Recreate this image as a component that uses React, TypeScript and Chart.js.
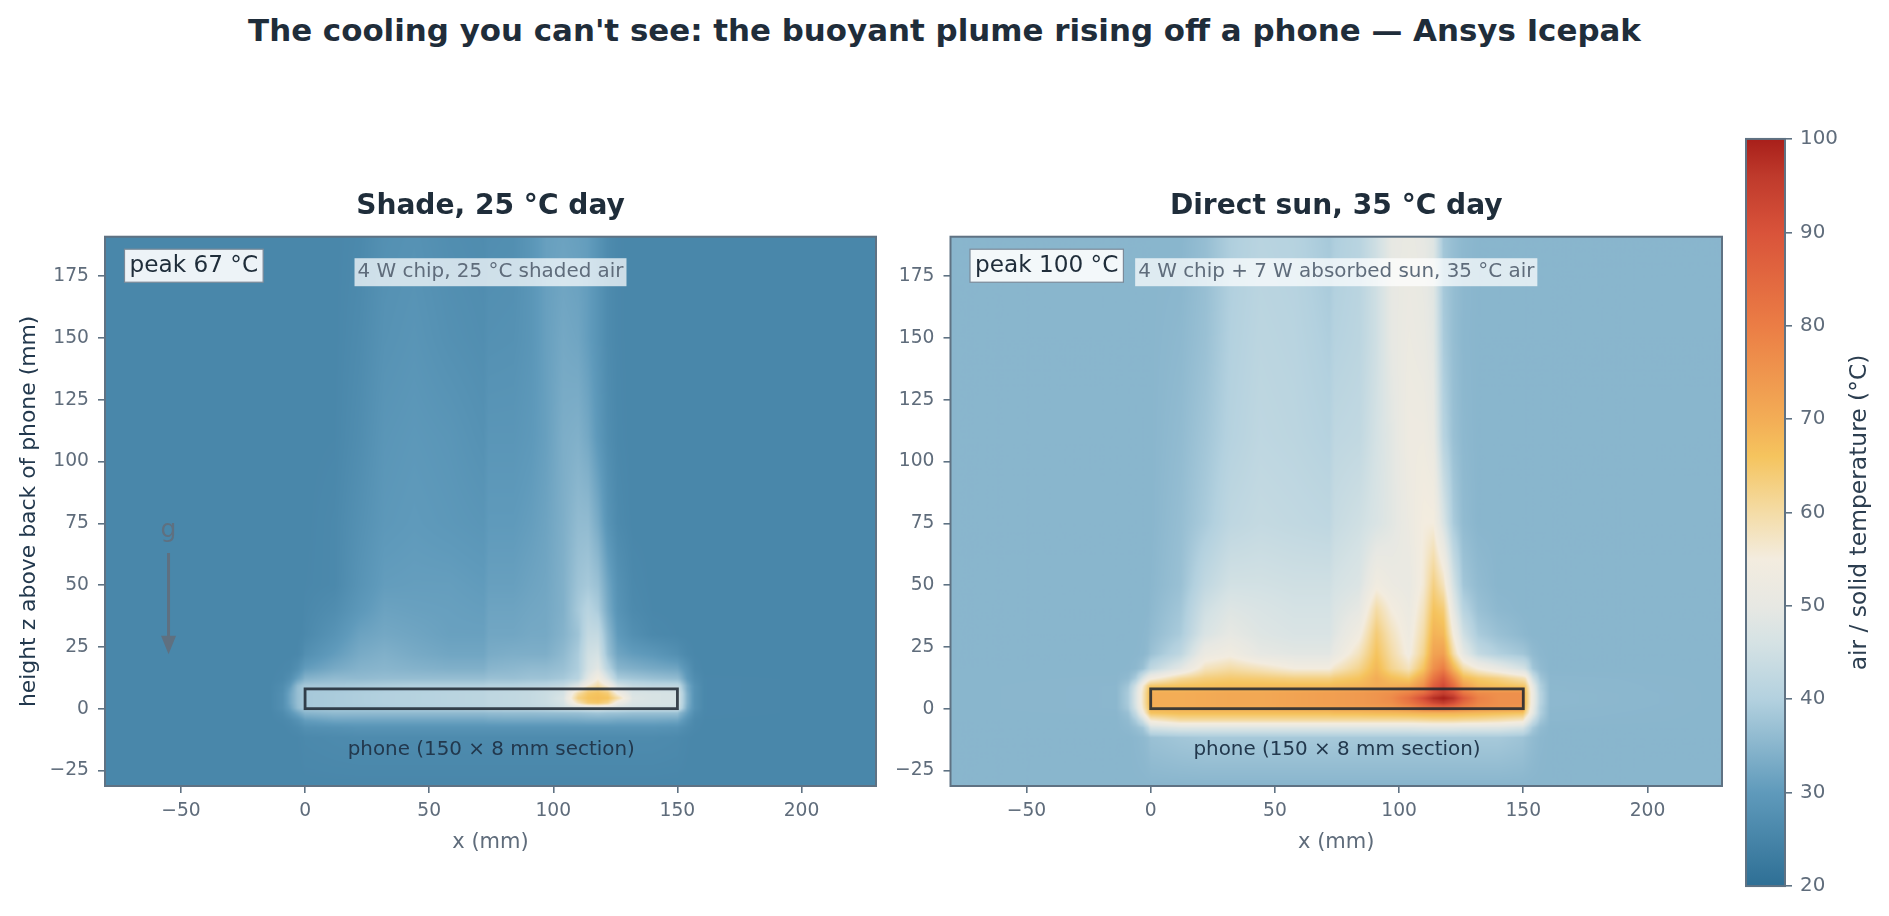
import React, { useEffect, useRef } from "react";
import { Chart, registerables } from "chart.js";

Chart.register(...registerables);

// ---- data ----
const MAIN_TITLE = "The cooling you can't see: the buoyant plume rising off a phone — Ansys Icepak";
const xTicks = [-50, 0, 50, 100, 150, 200];
const zTicks = [-25, 0, 25, 50, 75, 100, 125, 150, 175];
const barTicks = [20, 30, 40, 50, 60, 70, 80, 90, 100];
const xRange = [-80.6, 230];
const zRange = [-31.3, 191];
const gridX = [-80, -14, -9, -6, -3, -1, 0, 12, 22, 32, 44, 58, 72, 74, 84, 91, 97, 104, 110, 114, 118, 122, 126, 132, 140, 150, 151, 154, 157, 161, 230];
const gridZ = [191, 150, 110, 75, 50, 40, 30, 22, 16, 12, 9, 8, 6, 4, 2, 0, -2, -5, -8, -12, -31.3];

const shadeField = [
  [25.5,25.5,25.5,25.5,25.5,25.5,25.5,25.5,26,27.7,28.2,27.2,26.8,27.2,27.4,29,31,31.5,31,30.5,28.5,26.5,25.7,25.5,25.5,25.5,25.5,25.5,25.5,25.5,25.5],
  [25.5,25.5,25.5,25.5,25.5,25.5,25.5,25.5,26.5,28.2,28.8,27.8,27.2,27.8,28,29,31,32.5,32,30.5,28.5,26.5,25.7,25.5,25.5,25.5,25.5,25.5,25.5,25.5,25.5],
  [25.5,25.5,25.5,25.5,25.5,25.5,25.5,25.6,27,29,29.5,29,28,29,29,29.7,31,33.5,34,32.5,29.5,27,25.8,25.5,25.5,25.5,25.5,25.5,25.5,25.5,25.5],
  [25.5,25.5,25.5,25.5,25.5,25.5,25.5,26,27.8,29.5,30,29.5,29,30,30,30.7,31.7,33.7,36,36,33,28.5,26.3,25.5,25.5,25.5,25.5,25.5,25.5,25.5,25.5],
  [25.5,25.5,25.5,25.5,25.5,25.5,25.6,26,28.5,30.5,30.7,30.7,30.2,31,31,31.7,32.2,34,37.5,38.5,37,32,28,26,25.5,25.5,25.5,25.5,25.5,25.5,25.5],
  [25.5,25.5,25.5,25.5,25.5,25.5,25.8,27,29.5,31.5,31.2,31,30.7,31.7,31.7,32.2,32.5,34,38.5,41,39,33,28.5,26.3,25.6,25.5,25.5,25.5,25.5,25.5,25.5],
  [25.5,25.5,25.5,25.5,25.5,25.7,26,28.5,31.5,32.5,32,31.2,31.2,32.2,32.2,32.7,32.7,34.5,37.5,43,43,35.5,30,27.5,26,25.6,25.5,25.5,25.5,25.5,25.5],
  [25.5,25.5,25.5,25.5,25.7,26.5,27.5,30.5,33,34,33,32.2,32.2,33.2,33.7,33.7,33.7,35.7,39,45,46,37,32,30.5,29.5,27.5,27,26,25.6,25.5,25.5],
  [25.5,25.5,25.7,26,27.5,29.5,30.5,33,34.5,35,34.5,34,34,35,35.5,36,36,37,39.5,46,49,41,35,34,33,32,31,28.5,26,25.5,25.5],
  [25.5,25.5,26,27.5,31,33,34.5,36,36,36.5,36.5,36.5,36.5,37,37,37.5,37.5,38.5,41,49,55,47,39,38,37,36,35,30,27,25.7,25.5],
  [25.5,25.6,27,30,36,38,38.5,38.5,39,39.5,40,40,40,40.5,40.5,41,41.5,43,48,56,60,55,46,43,42,42,41,33,28,25.7,25.5],
  [25.5,25.6,27,31,36.5,38,38.5,38.5,39,39.5,40,40.5,41,41.5,42,42.5,43.5,45,52,60,62,58,48,45,44,44,42,33,28,25.7,25.5],
  [25.5,25.6,27.5,32,36.5,38,38.5,39,39.5,40,40.5,41,41.5,42,42.5,43,44,46,60,65,66,64,54,47,46.5,46,44,34,28,25.7,25.5],
  [25.5,25.6,27.5,32,36.5,38,38.5,39,39.5,40,40.5,41,41.5,42,42.5,43,44,47,63,66,67,66,60,48,46.5,46,44,34,28,25.7,25.5],
  [25.5,25.6,27.5,32,36.5,38,38.5,39,39.5,40,40.5,41,41.5,42,42.5,43,44,46,58,64,65,62,52,47,46.5,46,44,34,28,25.7,25.5],
  [25.5,25.6,27.5,31,36,38,38.5,39,39,39.5,40,40.5,41,41.5,42,42.5,43,45,46,47,48,47,46,45.5,45,45,43,33,28,25.7,25.5],
  [25.5,25.5,26.5,29,32,34,35,36,36,36,36,36,36,36.3,36.5,36.5,36.7,36.8,37,37.5,38,37.5,37.5,37,37,37,35,31,27,25.7,25.5],
  [25.5,25.5,25.8,26.5,28,29.5,30.5,32,32,32,32,32,32,32.3,32.5,32.5,32.5,32.5,32.7,33,33,33,32.5,32.5,32.5,32,31,28,26,25.6,25.5],
  [25.5,25.5,25.5,25.8,26.3,27,27.5,28,28.5,28.5,28.5,28.5,28.5,28.5,28.5,28.5,28.5,28.5,28.5,28.5,28.5,28.5,28.5,28.5,28.5,28,27.5,26.5,25.8,25.5,25.5],
  [25.5,25.5,25.5,25.5,25.6,25.8,26,26.3,26.5,26.5,26.5,26.5,26.5,26.5,26.5,26.5,26.5,26.5,26.5,26.5,26.5,26.5,26.5,26.5,26.5,26.2,26,25.7,25.5,25.5,25.5],
  [25.5,25.5,25.5,25.5,25.5,25.5,25.5,25.5,25.5,25.5,25.5,25.5,25.5,25.5,25.5,25.5,25.5,25.5,25.5,25.5,25.5,25.5,25.5,25.5,25.5,25.5,25.5,25.5,25.5,25.5,25.5],
];

const sunField = [
  [35,35,35,35,35,35,35,35,36.5,39.5,41,40.5,38.5,39.5,41,45,50,51,50,48,38,36.5,35.5,35,35,35,35,35,35,35,35],
  [35,35,35,35,35,35,35,35.5,37,40,41.5,41,39.5,40.5,41.5,45,50,52,51,49,39,36.5,35.3,35,35,35,35,35,35,35,35],
  [35,35,35,35,35,35,35,36,38,40.5,42,41.5,40.5,42,42.5,46,49,53,53,51,41,37,35.5,35,35,35,35,35,35,35,35],
  [35,35,35,35,35,35,35,36.5,39,42,43,42.5,42,43.5,45,47,49,52,55,55,47,39,36,35,35,35,35,35,35,35,35],
  [35,35,35,35,35,35,35.2,37,42.5,45.5,45.5,45,45,46,47.5,54,52,51,56,63,58,46,38,36,35,35,35,35,35,35,35],
  [35,35,35,35,35,35.1,35.5,38,45,48,47,46,46,47.5,50,60,55,52,58,66,64,50,41,37,35.5,35,35,35,35,35,35],
  [35,35,35,35,35.2,35.5,36,39,47,50,48,47,47,48.5,54,64,58,53,60,69,68,55,45,39,37,35.5,35.3,35,35,35,35],
  [35,35,35,35.1,35.3,36,37,42,52,54,50,49,49,51,58,66,60,54,62,72,73,60,50,43,40,38,37.5,36,35.3,35,35],
  [35,35,35.1,35.5,37,40,42,49,58,60,58,55,55,57,62,68,62,58,66,76,80,69,60,55,51,46,45,38,36,35,35],
  [35,35.1,36,39,47,52,54,61,63.5,64.5,64,63,63,64,66,70,67,65,72,82,88,78,68,65,63,59,58,45,38,35.3,35],
  [35,35.2,38,45,56,63,65,66,66.5,67,67,67,67,67.5,68.5,70,69.5,70,76,87,92,84,73,68,66.5,65,64,50,40,35.4,35],
  [35,35.2,38.5,46,57,64,67,67,67.5,68,68,68.5,69,69.5,70,71,72,74,79,89,93,87,77,71,70,70,65,51,40,35.4,35],
  [35,35.2,39,47,58,65,70,70,70.5,71,71,72,73,73,74,75,76,79,84,91,95,91,82,77,76,76,66,52,41,35.5,35],
  [35,35.2,39,47,58,65,70,70,70.5,71,71,72,73,73,74,75,77,83,92,98,100,97,88,79,76,76,66,52,41,35.5,35],
  [35,35.2,39,47,58,65,70,70,70.5,71,71,72,73,73,74,75,76,81,87,92,95,91,84,78,76,76,66,52,41,35.5,35],
  [35,35.2,38.5,46,57,64,69,69.5,70,70,70,71,71.5,72,72.5,73,74,76,81,83,84,82,79,76,75,74,65,51,40,35.4,35],
  [35,35.1,37,43,54,62,66,67,67,67,67,67,67,67.5,67.5,68,68,68.5,69,69,69,69,68.5,68,67,66,62,50,40,35.3,35],
  [35,35,36,39,45,52,56,60,60,60,60,60,60,60,60,60,60,60,60.5,61,61,61,60.5,60,59,57,53,44,38,35.2,35],
  [35,35,35.5,36.5,38,42,46,48,48,48,48,48,48,48,48,48,48,48,48.5,48.5,48.5,48.5,48,48,48,46,44,38.5,36,35,35],
  [35,35,35,35.3,35.7,36.3,37,38,38.5,38.5,38.5,38.5,38.5,38.5,38.5,38.5,38.5,38.5,38.5,38.5,38.5,38.5,38.5,38.5,38.5,37.5,37,36,35.3,35,35],
  [35,35,35,35,35,35,35,35,35,35,35,35,35,35,35,35,35,35,35,35,35,35,35,35,35,35,35,35,35,35,35],
];

const colorStopsT = [20, 30, 40, 46, 50, 55, 60, 66, 70, 80, 90, 96, 100];
const colorStopsHex = ["#2e6f95", "#5f9abb", "#b3d1df", "#d5e2e4", "#e7e8e3", "#f3ecdf", "#f4dca6", "#f5c45e", "#f3ad56", "#eb7d45", "#d9533a", "#bf3a2c", "#a81f1a"];

const panels = [
  { title: "Shade, 25 °C day", peak: "peak 67 °C", note: "4 W chip, 25 °C shaded air", field: shadeField, showZLabel: true, showG: true },
  { title: "Direct sun, 35 °C day", peak: "peak 100 °C", note: "4 W chip + 7 W absorbed sun, 35 °C air", field: sunField, showZLabel: false, showG: false },
];
const phoneBox = { x0: 0, x1: 150, z0: 0, z1: 8 };
const phoneLabel = "phone (150 × 8 mm section)";
const xTitle = "x (mm)";
const zTitle = "height z above back of phone (mm)";
const barTitle = "air / solid temperature (°C)";

// ---- styles ----
const FONT = "'DejaVu Sans', sans-serif";
const DARK = "#1f2d3a";
const GREY = "#5f6c7b";
const FRAME = "#5f7283";
const TICK = 18.7;

const hexRgb = (h: string) => [1, 3, 5].map((i) => parseInt(h.slice(i, i + 2), 16));
const stopsRgb = colorStopsHex.map(hexRgb);
function colorAt(t: number): number[] {
  if (t <= colorStopsT[0]) return stopsRgb[0];
  for (let i = 1; i < colorStopsT.length; i++) {
    if (t <= colorStopsT[i]) {
      const f = (t - colorStopsT[i - 1]) / (colorStopsT[i] - colorStopsT[i - 1]);
      return stopsRgb[i].map((c, k) => stopsRgb[i - 1][k] + (c - stopsRgb[i - 1][k]) * f);
    }
  }
  return stopsRgb[stopsRgb.length - 1];
}

function locate(values: number[], v: number): [number, number] {
  const asc = values[0] < values[values.length - 1];
  for (let i = 0; i < values.length - 1; i++) {
    const a = values[i], b = values[i + 1];
    if (asc ? v <= b : v >= b) {
      const f = Math.max(0, Math.min(1, (v - a) / (b - a)));
      return [i, f];
    }
  }
  return [values.length - 2, 1];
}

function drawBox(ctx: CanvasRenderingContext2D, text: string, font: string, color: string, cx: number, cy: number, fill: string, pad: number[], edge?: string, left?: number) {
  ctx.save();
  ctx.font = font;
  const w = ctx.measureText(text).width;
  const x0 = left !== undefined ? left : cx - w / 2 - pad[0];
  const bw = w + 2 * pad[0];
  const bh = pad[1] * 2;
  ctx.fillStyle = fill;
  ctx.fillRect(x0, cy - bh / 2, bw, bh);
  if (edge) {
    ctx.strokeStyle = edge;
    ctx.lineWidth = 1.2;
    ctx.strokeRect(x0, cy - bh / 2, bw, bh);
  }
  ctx.fillStyle = color;
  ctx.textBaseline = "middle";
  ctx.textAlign = "left";
  ctx.fillText(text, x0 + pad[0], cy);
  ctx.restore();
}

const heatPlugin = {
  id: "heat",
  beforeDatasetsDraw(chart: any, _a: any, opts: any) {
    const { ctx, chartArea: a, scales } = chart;
    const field: number[][] = opts.field;
    const w = Math.ceil(a.right - a.left), h = Math.ceil(a.bottom - a.top);
    const off = document.createElement("canvas");
    off.width = w; off.height = h;
    const oc = off.getContext("2d")!;
    const img = oc.createImageData(w, h);
    const cols = Array.from({ length: w }, (_, i) => locate(gridX, scales.x.getValueForPixel(a.left + i + 0.5)));
    const rows = Array.from({ length: h }, (_, j) => locate(gridZ, scales.y.getValueForPixel(a.top + j + 0.5)));
    let p = 0;
    for (let j = 0; j < h; j++) {
      const [r, fr] = rows[j];
      for (let i = 0; i < w; i++) {
        const [c, fc] = cols[i];
        const t =
          field[r][c] * (1 - fc) * (1 - fr) + field[r][c + 1] * fc * (1 - fr) +
          field[r + 1][c] * (1 - fc) * fr + field[r + 1][c + 1] * fc * fr;
        const rgb = colorAt(t);
        img.data[p++] = rgb[0]; img.data[p++] = rgb[1]; img.data[p++] = rgb[2]; img.data[p++] = 255;
      }
    }
    oc.putImageData(img, 0, 0);
    ctx.drawImage(off, a.left, a.top, a.right - a.left, a.bottom - a.top);
  },
  afterDatasetsDraw(chart: any, _a: any, opts: any) {
    const { ctx, chartArea: a, scales } = chart;
    const sx = scales.x, sy = scales.y;
    ctx.save();
    // phone outline
    ctx.strokeStyle = "rgba(28,38,48,0.85)";
    ctx.lineWidth = 2.8;
    ctx.strokeRect(sx.getPixelForValue(phoneBox.x0), sy.getPixelForValue(phoneBox.z1), sx.getPixelForValue(phoneBox.x1) - sx.getPixelForValue(phoneBox.x0), sy.getPixelForValue(phoneBox.z0) - sy.getPixelForValue(phoneBox.z1));
    ctx.fillStyle = "#22384d";
    ctx.font = `19.9px ${FONT}`;
    ctx.textAlign = "center";
    ctx.textBaseline = "middle";
    ctx.fillText(phoneLabel, sx.getPixelForValue(75), sy.getPixelForValue(-16.5));
    // note and peak boxes
    drawBox(ctx, opts.note, `19.9px ${FONT}`, GREY, (a.left + a.right) / 2, a.top + 35.5, "rgba(255,255,255,0.72)", [3, 14]);
    drawBox(ctx, opts.peak, `23.2px ${FONT}`, DARK, 0, a.top + 29, "rgba(255,255,255,0.9)", [5, 16.5], "#7b8a99", a.left + 19.5);
    if (opts.showG) {
      const gx = sx.getPixelForValue(-55);
      ctx.fillStyle = "#5f7080";
      ctx.font = `25px ${FONT}`;
      ctx.textAlign = "center";
      ctx.fillText("g", gx, sy.getPixelForValue(72));
      ctx.strokeStyle = "#5f7080";
      ctx.lineWidth = 3;
      ctx.beginPath();
      ctx.moveTo(gx, sy.getPixelForValue(63));
      ctx.lineTo(gx, sy.getPixelForValue(27));
      ctx.stroke();
      ctx.beginPath();
      ctx.moveTo(gx - 7.5, sy.getPixelForValue(29.5));
      ctx.lineTo(gx + 7.5, sy.getPixelForValue(29.5));
      ctx.lineTo(gx, sy.getPixelForValue(22));
      ctx.closePath();
      ctx.fill();
    }
    // frame
    ctx.strokeStyle = FRAME;
    ctx.lineWidth = 2;
    ctx.strokeRect(a.left, a.top, a.right - a.left, a.bottom - a.top);
    ctx.restore();
  },
};

const framePlugin = {
  id: "barFrame",
  afterDatasetsDraw(chart: any) {
    const { ctx, chartArea: a } = chart;
    ctx.save();
    ctx.strokeStyle = FRAME;
    ctx.lineWidth = 2;
    ctx.strokeRect(a.left, a.top, a.right - a.left, a.bottom - a.top);
    ctx.fillStyle = "#2c3e50";
    ctx.font = `23.4px ${FONT}`;
    ctx.textAlign = "center";
    ctx.textBaseline = "middle";
    ctx.translate(a.right + 75, (a.top + a.bottom) / 2);
    ctx.rotate(-Math.PI / 2);
    ctx.fillText(barTitle, 0, 0);
    ctx.restore();
  },
};

const minus = (v: number) => (v < 0 ? `\u2212${Math.abs(v)}` : `${v}`);

function makePanel(canvas: HTMLCanvasElement, panel: (typeof panels)[number], zWidth: number) {
  const points: { x: number; y: number }[] = [];
  gridZ.forEach((z) => gridX.forEach((x) => points.push({ x, y: z })));
  const tickFont = { family: FONT, size: TICK };
  return new Chart(canvas, {
    type: "scatter",
    data: { datasets: [{ data: points, pointRadius: 0, pointHoverRadius: 0 }] },
    plugins: [heatPlugin],
    options: {
      animation: false,
      responsive: false,
      events: [],
      layout: { padding: { left: 0, right: 4, top: 0, bottom: 0 } },
      scales: {
        x: {
          type: "linear",
          min: xRange[0],
          max: xRange[1],
          afterBuildTicks: (s: any) => { s.ticks = xTicks.map((value) => ({ value })); },
          afterFit: (s: any) => { s.height = 100; },
          ticks: { color: GREY, font: tickFont, padding: 7, maxRotation: 0, callback: (v: any) => minus(Number(v)) },
          grid: { drawOnChartArea: false, drawTicks: true, tickLength: 7, color: FRAME, lineWidth: 1.6 },
          border: { display: false },
          title: { display: true, text: xTitle, color: GREY, font: { family: FONT, size: 21 }, padding: { top: 0, bottom: 31 } },
        },
        y: {
          type: "linear",
          min: zRange[0],
          max: zRange[1],
          afterBuildTicks: (s: any) => { s.ticks = zTicks.map((value) => ({ value })); },
          afterFit: (s: any) => { s.width = zWidth; },
          ticks: { color: GREY, font: tickFont, padding: 9, callback: (v: any) => minus(Number(v)) },
          grid: { drawOnChartArea: false, drawTicks: true, tickLength: 7, color: FRAME, lineWidth: 1.6 },
          border: { display: false },
          title: { display: panel.showZLabel, text: zTitle, color: "#22384d", font: { family: FONT, size: 21.9 }, padding: { top: 16, bottom: 0 } },
        },
      },
      plugins: {
        legend: { display: false },
        tooltip: { enabled: false },
        title: { display: true, fullSize: false, text: panel.title, color: DARK, font: { family: FONT, size: 28.1, weight: "bold" }, padding: { top: 0, bottom: 13 } },
        heat: { field: panel.field, peak: panel.peak, note: panel.note, showG: panel.showG },
      },
    } as any,
  });
}

function makeBar(canvas: HTMLCanvasElement) {
  return new Chart(canvas, {
    type: "bar",
    data: {
      labels: [""],
      datasets: [{
        data: [[barTicks[0], barTicks[barTicks.length - 1]]],
        barPercentage: 1,
        categoryPercentage: 1,
        borderWidth: 0,
        backgroundColor: (c: any) => {
          const { chart } = c;
          const y = chart.scales.y;
          if (!y || !chart.chartArea) return colorStopsHex[0];
          const top = y.getPixelForValue(100), bottom = y.getPixelForValue(20);
          const g = chart.ctx.createLinearGradient(0, bottom, 0, top);
          colorStopsT.forEach((t, i) => g.addColorStop((t - 20) / 80, colorStopsHex[i]));
          return g;
        },
      }],
    } as any,
    plugins: [framePlugin],
    options: {
      animation: false,
      responsive: false,
      events: [],
      layout: { padding: { left: 6, right: 0, top: 0, bottom: 0 } },
      scales: {
        x: { display: false },
        y: {
          position: "right",
          min: 20,
          max: 100,
          afterBuildTicks: (s: any) => { s.ticks = barTicks.map((value) => ({ value })); },
          afterFit: (s: any) => { s.width = 104; },
          ticks: { color: GREY, font: { family: FONT, size: 19.9 }, padding: 8 },
          grid: { drawOnChartArea: false, drawTicks: true, tickLength: 7, color: FRAME, lineWidth: 1.6 },
          border: { display: false },
        },
      },
      plugins: { legend: { display: false }, tooltip: { enabled: false } },
    } as any,
  });
}

const abs = (left: number, top: number): React.CSSProperties => ({ position: "absolute", left, top });

export default function App() {
  const leftRef = useRef<HTMLCanvasElement>(null);
  const rightRef = useRef<HTMLCanvasElement>(null);
  const barRef = useRef<HTMLCanvasElement>(null);

  useEffect(() => {
    document.body.style.margin = "0";
    document.body.style.overflow = "hidden";
    const charts = [
      makePanel(leftRef.current!, panels[0], 105),
      makePanel(rightRef.current!, panels[1], 70.5),
      makeBar(barRef.current!),
    ];
    return () => charts.forEach((c) => c.destroy());
  }, []);

  return (
    <div style={{ position: "relative", width: 1889, height: 916, background: "#fff", overflow: "hidden" }}>
      <div style={{ ...abs(0, 11), width: 1889, textAlign: "center", fontFamily: FONT, fontWeight: "bold", fontSize: 30.9, lineHeight: "38px", color: DARK, whiteSpace: "nowrap" }}>{MAIN_TITLE}</div>
      <canvas ref={leftRef} width={880} height={696} style={abs(0, 190)} />
      <canvas ref={rightRef} width={846} height={696} style={abs(880, 190)} />
      <canvas ref={barRef} width={149} height={787} style={abs(1740, 119)} />
    </div>
  );
}
